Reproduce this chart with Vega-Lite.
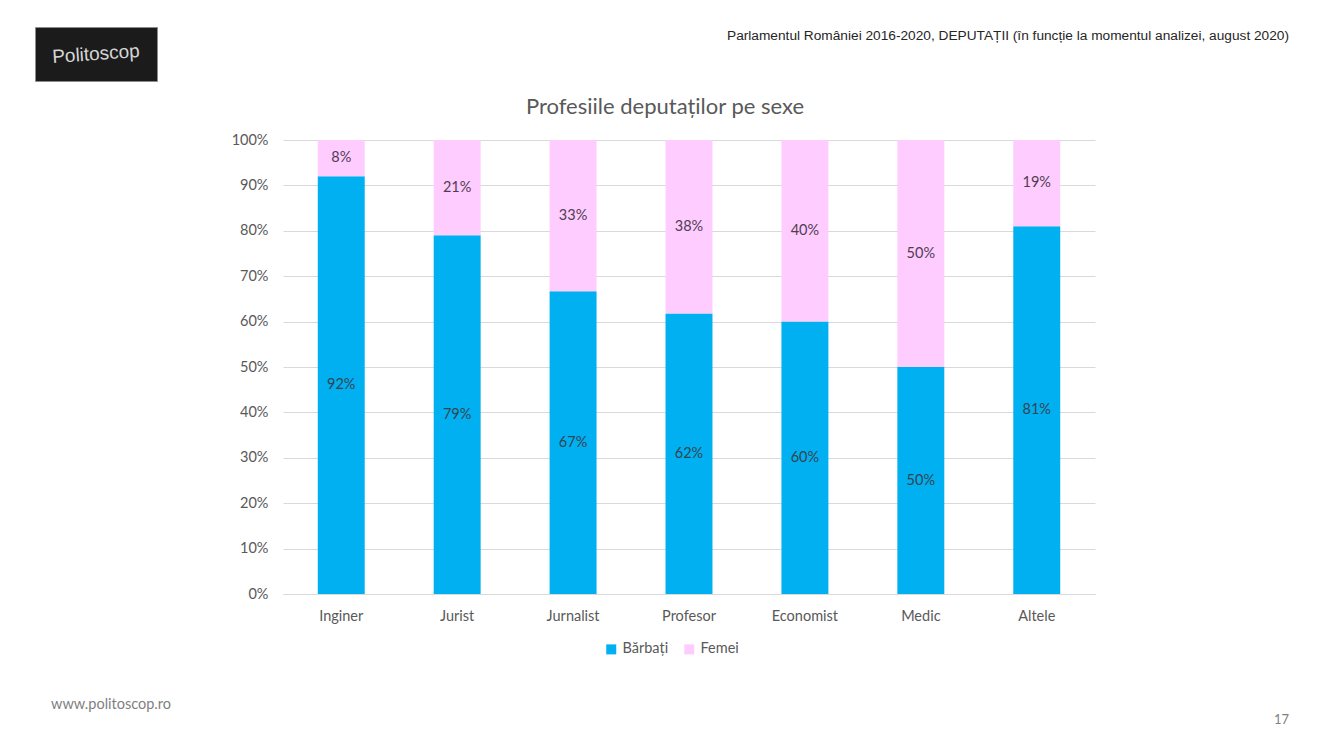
{
  "$schema": "https://vega.github.io/schema/vega-lite/v6.json",
  "padding": {"left": 34, "top": 26, "right": 0, "bottom": 0},
  "background": "white",
  "config": {"view": {"stroke": null}, "font": "Lato"},
  "title": {
    "text": "Parlamentul României 2016-2020, DEPUTAȚII (în funcție la momentul analizei, august 2020)",
    "anchor": "end",
    "frame": "bounds",
    "offset": -16,
    "font": "Liberation Sans",
    "fontSize": 13.7,
    "fontWeight": "normal",
    "color": "#262626"
  },
  "spacing": 14,
  "resolve": {"legend": {"color": "independent"}},
  "vconcat": [
    {
      "width": 122,
      "height": 54,
      "view": {"fill": "#1b1b1b", "stroke": "#8c8c8c"},
      "data": {"values": [{"logo": "Politoscop"}]},
      "mark": {"type": "text", "font": "Liberation Sans", "fontSize": 19, "color": "#d6d6d6", "angle": -4},
      "encoding": {"text": {"field": "logo"}}
    },
    {
      "spacing": 40,
      "resolve": {"legend": {"color": "independent"}},
      "vconcat": [
        {
          "spacing": 0,
          "resolve": {"legend": {"color": "independent"}},
          "hconcat": [
            {
              "width": 1,
              "height": 1,
              "data": {"values": [{"gol": ""}]},
              "mark": {"type": "text"},
              "encoding": {"text": {"field": "gol"}}
            },
            {
              "title": {
                "text": "Profesiile deputaților pe sexe",
                "fontSize": 22,
                "fontWeight": "normal",
                "color": "#595959",
                "anchor": "middle",
                "frame": "group",
                "dx": -24,
                "offset": 13
              },
              "width": 812,
              "height": 454,
              "data": {
                "values": [
                  {"profesie": "Inginer", "sex": "Bărbați", "pondere": 0.92},
                  {"profesie": "Inginer", "sex": "Femei", "pondere": 0.08},
                  {"profesie": "Jurist", "sex": "Bărbați", "pondere": 0.79},
                  {"profesie": "Jurist", "sex": "Femei", "pondere": 0.21},
                  {"profesie": "Jurnalist", "sex": "Bărbați", "pondere": 0.667},
                  {"profesie": "Jurnalist", "sex": "Femei", "pondere": 0.333},
                  {"profesie": "Profesor", "sex": "Bărbați", "pondere": 0.618},
                  {"profesie": "Profesor", "sex": "Femei", "pondere": 0.382},
                  {"profesie": "Economist", "sex": "Bărbați", "pondere": 0.6},
                  {"profesie": "Economist", "sex": "Femei", "pondere": 0.4},
                  {"profesie": "Medic", "sex": "Bărbați", "pondere": 0.5},
                  {"profesie": "Medic", "sex": "Femei", "pondere": 0.5},
                  {"profesie": "Altele", "sex": "Bărbați", "pondere": 0.81},
                  {"profesie": "Altele", "sex": "Femei", "pondere": 0.19}
                ]
              },
              "encoding": {
                "x": {
                  "field": "profesie",
                  "type": "nominal",
                  "sort": null,
                  "scale": {"paddingInner": 0.595, "paddingOuter": 0.3},
                  "axis": {
                    "title": null,
                    "labelAngle": 0,
                    "labelFontSize": 14.5,
                    "labelColor": "#595959",
                    "labelPadding": 15,
                    "ticks": false,
                    "domainColor": "#d9d9d9"
                  }
                },
                "y": {
                  "field": "pondere",
                  "type": "quantitative",
                  "stack": "zero",
                  "scale": {"domain": [0, 1], "nice": false},
                  "axis": {
                    "title": null,
                    "values": [0, 0.1, 0.2, 0.3, 0.4, 0.5, 0.6, 0.7, 0.8, 0.9, 1],
                    "format": ".0%",
                    "domain": false,
                    "ticks": false,
                    "labelFontSize": 14.5,
                    "labelColor": "#595959",
                    "labelPadding": 15,
                    "gridColor": "#d9d9d9",
                    "minExtent": 247
                  }
                },
                "order": {"field": "sex", "sort": "ascending"}
              },
              "layer": [
                {
                  "mark": {"type": "bar"},
                  "encoding": {
                    "color": {
                      "field": "sex",
                      "type": "nominal",
                      "scale": {"domain": ["Bărbați", "Femei"], "range": ["#00b0f0", "#ffccff"]},
                      "legend": {
                        "title": null,
                        "orient": "none",
                        "legendX": 321,
                        "legendY": 502,
                        "direction": "horizontal",
                        "symbolType": "square",
                        "symbolSize": 100,
                        "symbolStrokeWidth": 0,
                        "labelFontSize": 14.5,
                        "labelColor": "#595959",
                        "labelOffset": 4,
                        "columnPadding": 13
                      }
                    }
                  }
                },
                {
                  "mark": {"type": "text", "fontSize": 14.5},
                  "encoding": {
                    "y": {"field": "pondere", "type": "quantitative", "stack": "zero", "bandPosition": 0.5},
                    "detail": {"field": "sex"},
                    "text": {"field": "pondere", "type": "quantitative", "format": ".0%"},
                    "color": {
                      "condition": {"test": "datum.sex === 'Femei'", "value": "#4f3d52"},
                      "value": "#344450"
                    }
                  }
                }
              ]
            }
          ]
        },
        {
          "width": 1254,
          "height": 4,
          "title": {
            "text": "www.politoscop.ro",
            "anchor": "start",
            "frame": "group",
            "dx": 16,
            "offset": 2,
            "fontSize": 14.5,
            "fontWeight": "normal",
            "color": "#7f7f7f"
          },
          "data": {"values": [{"pagina": "17"}]},
          "mark": {"type": "text", "align": "right", "fontSize": 13, "color": "#7f7f7f", "x": "width"},
          "encoding": {"text": {"field": "pagina"}}
        }
      ]
    }
  ]
}
